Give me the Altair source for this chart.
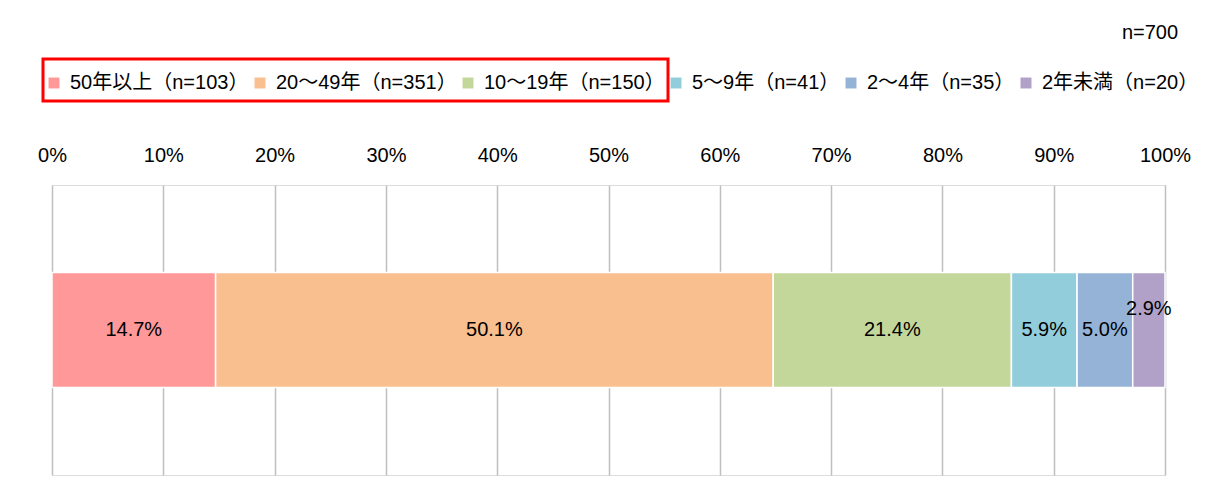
import altair as alt
import pandas as pd

categories = ["50年以上（n=103）", "20～49年（n=351）", "10～19年（n=150）",
              "5～9年（n=41）", "2～4年（n=35）", "2年未満（n=20）"]
values = [14.7, 50.1, 21.4, 5.9, 5.0, 2.9]
colors = ["#FF9999", "#F9BF8F", "#C4D79B", "#92CDDC", "#95B3D7", "#B1A0C7"]
tick_values = [0, 10, 20, 30, 40, 50, 60, 70, 80, 90, 100]
total_label = "n=700"

FONT = "'Liberation Sans', 'Noto Sans CJK JP', sans-serif"
FS = 20

df = pd.DataFrame({
    "cat": categories,
    "pct": values,
    "order": list(range(len(categories))),
    "row": ["all"] * len(categories),
    "label": [f"{v:.1f}%" for v in values],
})

W, H = 1113, 290

base = alt.Chart(df).transform_stack(
    stack="pct", groupby=["row"], as_=["x0", "x1"], sort=[alt.SortField("order")]
).transform_calculate(mid="(datum.x0 + datum.x1) / 2")

yenc = alt.Y("row:N", scale=alt.Scale(paddingInner=0, paddingOuter=0.76), axis=None)

bars = base.mark_bar(stroke="white", strokeWidth=1.5).encode(
    x=alt.X("x0:Q", scale=alt.Scale(domain=[0, 100], nice=False),
            axis=alt.Axis(orient="top", values=tick_values, labelExpr="datum.value + '%'",
                          grid=True, gridColor="#BFBFBF", gridWidth=1.5, domain=False,
                          ticks=False, labelPadding=20, labelFontSize=FS, labelFont=FONT,
                          labelFlush=False, labelColor="#000000", title=None)),
    x2="x1:Q",
    y=yenc,
    color=alt.Color("cat:N", sort=categories,
                    scale=alt.Scale(domain=categories, range=colors),
                    legend=alt.Legend(orient="none", legendX=-8, legendY=-112,
                                      direction="horizontal", title=None,
                                      symbolType="square", symbolSize=120,
                                      symbolStrokeWidth=0, labelFontSize=FS,
                                      labelFont=FONT, labelColor="#000000",
                                      labelLimit=0, columnPadding=1,
                                      labelOffset=6)),
    order=alt.Order("order:Q"),
)

labels_main = base.transform_filter("datum.order < 5").mark_text(
    fontSize=FS, font=FONT, color="#000000"
).encode(x="mid:Q", y=yenc, text="label:N")

labels_last = base.transform_filter("datum.order == 5").mark_text(
    fontSize=FS, font=FONT, color="#000000", dy=-21
).encode(x="mid:Q", y=yenc, text="label:N")

total = alt.Chart(pd.DataFrame({"t": [total_label]})).mark_text(
    fontSize=FS, font=FONT, color="#000000"
).encode(x=alt.value(1098), y=alt.value(-152), text="t:N")

highlight = alt.Chart(pd.DataFrame({"t": [0]})).mark_rect(
    fill=None, stroke="#FF0000", strokeWidth=3
).encode(x=alt.value(-9), x2=alt.value(616), y=alt.value(-126), y2=alt.value(-84))

chart = alt.layer(bars, labels_main, labels_last, total, highlight).properties(
    width=W, height=H,
    autosize=alt.AutoSizeParams(type="none"),
    padding={"left": 44, "top": 177, "right": 44, "bottom": 4},
).configure_view(stroke="#BFBFBF", strokeWidth=1.5).configure(background="white")

chart.save("out.html", embed_options={"renderer": "svg", "actions": False})
